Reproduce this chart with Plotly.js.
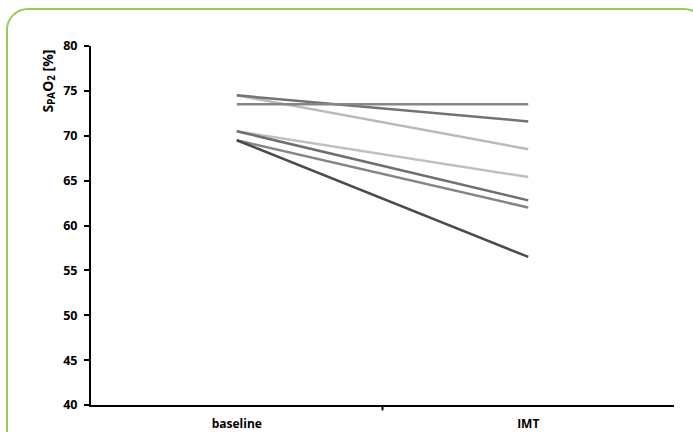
<!DOCTYPE html>
<html>
<head>
<meta charset="utf-8">
<script src="https://cdn.plot.ly/plotly-3.0.1.min.js"></script>
<style>
html,body{margin:0;padding:0;background:#fff;}
#frame{position:absolute;left:6px;top:8px;width:700px;height:460px;border:2px solid #98cb5b;border-radius:22px;box-sizing:border-box;}
#chart{position:absolute;left:0;top:0;width:693px;height:432px;}
</style>
</head>
<body>
<div id="frame"></div>
<div id="chart"></div>
<script>
const categories = ["baseline", "IMT"];
const baselineValues = [74.5, 74.5, 73.5, 70.5, 70.5, 69.5, 69.5];
const imtValues      = [68.5, 71.6, 73.5, 65.4, 62.8, 62.0, 56.5];
const lineColors = ["#bdb8bb", "#737373", "#868686", "#c0c0c0", "#6f6f6f", "#858585", "#4b4b4b"];
const yTicks = [40, 45, 50, 55, 60, 65, 70, 75, 80];

const traces = baselineValues.map((b, i) => ({
  type: "scatter",
  mode: "lines",
  x: [1, 2],
  y: [b, imtValues[i]],
  line: {color: lineColors[i], width: 2.5},
  hoverinfo: "skip",
  showlegend: false
}));

const layout = {
  width: 693, height: 432,
  margin: {l: 91, r: 19, t: 46, b: 27},
  paper_bgcolor: "rgba(0,0,0,0)",
  plot_bgcolor: "rgba(0,0,0,0)",
  font: {family: "Open Sans, sans-serif", color: "#000"},
  xaxis: {
    range: [0.5, 2.5], tickvals: [1, 2], ticktext: categories,
    showgrid: false, zeroline: false, showline: true, linecolor: "#000", linewidth: 2,
    ticks: "", ticklabelstandoff: 7,
    tickfont: {size: 12, weight: "bold"}
  },
  yaxis: {
    range: [40, 80], tickvals: yTicks,
    showgrid: false, zeroline: false, showline: true, linecolor: "#000", linewidth: 2,
    ticks: "outside", ticklen: 5, tickwidth: 2, tickcolor: "#000",
    tickfont: {size: 12.5, weight: "bold"}, ticklabelstandoff: 4
  },
  shapes: [{
    type: "line", xref: "x", yref: "paper", x0: 1.5, x1: 1.5, y0: 0, y1: -0.015,
    line: {color: "#000", width: 2}
  }],
  annotations: [{
    text: "S<sub>PA</sub>O<sub>2</sub> [%]",
    xref: "paper", yref: "paper", x: 0, y: 1, xanchor: "center", yanchor: "top",
    xshift: -43, yshift: -2, textangle: -90, showarrow: false,
    font: {size: 14, weight: "bold", color: "#000"}
  }]
};

Plotly.newPlot("chart", traces, layout, {displayModeBar: false, staticPlot: true});
</script>
</body>
</html>
